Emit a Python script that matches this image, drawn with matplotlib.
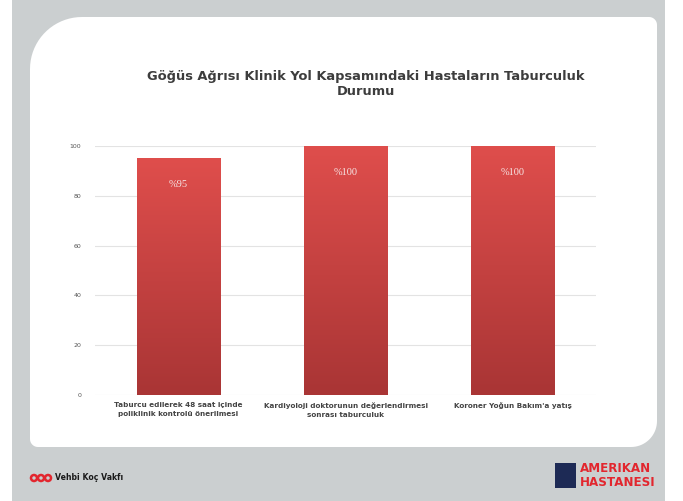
import matplotlib
matplotlib.use("Agg")
import matplotlib.pyplot as plt
from matplotlib.path import Path
from matplotlib.patches import PathPatch, Rectangle, Circle
import numpy as np

# Data
kategoriler = ["Taburcu edilerek 48 saat içinde\npoliklinik kontrolü önerilmesi",
               "Kardiyoloji doktorunun değerlendirmesi\nsonrası taburculuk",
               "Koroner Yoğun Bakım'a yatış"]
degerler = [95, 100, 100]
etiketler = ["%95", "%100", "%100"]
y_ticks = [0, 20, 40, 60, 80, 100]
baslik = "Göğüs Ağrısı Klinik Yol Kapsamındaki Hastaların Taburculuk\nDurumu"

W, H = 683, 501
fig = plt.figure(figsize=(W / 100, H / 100), dpi=100)
fig.patch.set_facecolor("white")

# background in pixel coordinates
bg = fig.add_axes([0, 0, 1, 1])
bg.set_xlim(0, W)
bg.set_ylim(H, 0)
bg.axis("off")
bg.add_patch(Rectangle((12, 0), 653, H, color="#cbcfd0", lw=0))


def rounded_panel(x0, y0, x1, y1, r_tl, r_tr, r_br, r_bl):
    pts = []
    def arc(cx, cy, r, a0, a1):
        t = np.linspace(np.radians(a0), np.radians(a1), 20)
        return list(zip(cx + r * np.cos(t), cy + r * np.sin(t)))
    # y grows downward here
    pts += arc(x0 + r_tl, y0 + r_tl, r_tl, 180, 270)
    pts += arc(x1 - r_tr, y0 + r_tr, r_tr, 270, 360)
    pts += arc(x1 - r_br, y1 - r_br, r_br, 0, 90)
    pts += arc(x0 + r_bl, y1 - r_bl, r_bl, 90, 180)
    pts.append(pts[0])
    return Path(pts)

bg.add_patch(PathPatch(rounded_panel(30, 17, 657, 447, 52, 8, 26, 8),
                       facecolor="white", edgecolor="none"))

# bottom logos
for cx in (34, 41, 48):
    bg.add_patch(Circle((cx, 478), 3.0, fill=False, ec="#e2262e", lw=1.8))
bg.text(55, 478, "Vehbi Koç Vakfı", fontsize=5.6, fontweight="bold",
        color="#1a1a1a", va="center", ha="left")
bg.add_patch(Rectangle((555, 463), 21, 25, color="#1d2a55", lw=0))
bg.text(580, 469, "AMERIKAN", fontsize=8.6, fontweight="bold",
        color="#e2262e", va="center", ha="left")
bg.text(580, 482, "HASTANESI", fontsize=8.6, fontweight="bold",
        color="#e2262e", va="center", ha="left")

# title
fig.text(366 / W, 1 - 84 / H, baslik, ha="center", va="center",
         fontsize=9.4, fontweight="bold", color="#3d3d3d", linespacing=1.25)

# chart axes
ax = fig.add_axes([95 / W, 1 - 395 / H, 501 / W, 249 / H])
ax.set_facecolor("none")
x = np.arange(len(degerler))
bars = ax.bar(x, degerler, width=0.5, color="#d04646", edgecolor="#b63a3a",
              linewidth=0.6, zorder=3)

grad = np.linspace(0, 1, 256).reshape(-1, 1)
cmap = matplotlib.colors.LinearSegmentedColormap.from_list("r", ["#a93535", "#df4e4c"])
for b in bars:
    im = ax.imshow(grad, extent=[b.get_x(), b.get_x() + b.get_width(), 0, b.get_height()],
                   origin="lower", cmap=cmap, aspect="auto", zorder=3.5)
    im.set_clip_path(b)
ax.set_aspect("auto")
ax.set_xlim(-0.5, len(degerler) - 0.5)
ax.set_ylim(0, 100)

for b, lab in zip(bars, etiketler):
    ax.text(b.get_x() + b.get_width() / 2, b.get_height() - 10.5, lab,
            ha="center", va="center", color="#f6e6e6", fontsize=7.5,
            family="Liberation Serif", zorder=5)

ax.set_yticks(y_ticks)
ax.set_yticklabels([str(v) for v in y_ticks], fontsize=4.5, color="#555555")
ax.set_xticks(x)
ax.set_xticklabels(kategoriler, fontsize=5.2, fontweight="bold", color="#444444",
                   linespacing=1.6)
ax.tick_params(axis="y", length=0, pad=10)
ax.tick_params(axis="x", length=0, pad=5)
ax.grid(axis="y", color="#e3e3e3", lw=0.8, zorder=0)
for s in ax.spines.values():
    s.set_visible(False)

fig.savefig("out.png", dpi=100)
